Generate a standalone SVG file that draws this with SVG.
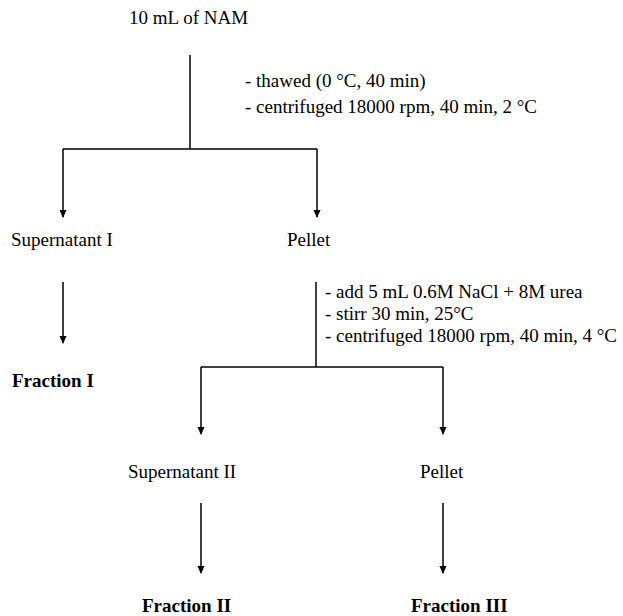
<svg xmlns="http://www.w3.org/2000/svg" width="623" height="616" viewBox="0 0 623 616">
<style>
text{font-family:"Liberation Serif","Times New Roman",serif;font-size:19px;fill:#000}
.b{font-weight:bold}
.c line,.c polyline{stroke:#000;stroke-width:1.5;fill:none}
</style>
<defs>
<marker id="ah" markerWidth="8" markerHeight="8" refX="7" refY="4" orient="auto" markerUnits="userSpaceOnUse">
<path d="M0,0.5 L8,4 L0,7.5 Z" fill="#000"/>
</marker>
</defs>
<rect width="623" height="616" fill="#fff"/>
<g class="c" id="connectors">
<line x1="190" y1="55" x2="190" y2="149"/>
<line x1="63" y1="149" x2="317" y2="149"/>
<line x1="63" y1="149" x2="63" y2="217" marker-end="url(#ah)"/>
<line x1="317" y1="149" x2="317" y2="217" marker-end="url(#ah)"/>
<line x1="63" y1="282" x2="63" y2="343" marker-end="url(#ah)"/>
<line x1="316" y1="282" x2="316" y2="367"/>
<line x1="201" y1="367" x2="443" y2="367"/>
<line x1="201" y1="367" x2="201" y2="434" marker-end="url(#ah)"/>
<line x1="443" y1="367" x2="443" y2="434" marker-end="url(#ah)"/>
<line x1="201" y1="503" x2="201" y2="573" marker-end="url(#ah)"/>
<line x1="443" y1="503" x2="443" y2="573" marker-end="url(#ah)"/>
</g>
<g id="nam"><text x="129" y="24">10 mL of NAM</text></g>
<g id="step1"><text x="245" y="87">- thawed (0 °C, 40 min)</text><text x="245" y="113">- centrifuged 18000 rpm, 40 min, 2 °C</text></g>
<g id="sup1"><text x="11" y="246">Supernatant I</text></g>
<g id="pellet1"><text x="287" y="246">Pellet</text></g>
<g id="frac1"><text class="b" x="12" y="387">Fraction I</text></g>
<g id="step2"><text x="325" y="298">- add 5 mL 0.6M NaCl + 8M urea</text><text x="325" y="320">- stirr 30 min, 25°C</text><text x="325" y="342">- centrifuged 18000 rpm, 40 min, 4 °C</text></g>
<g id="sup2"><text x="128" y="478">Supernatant II</text></g>
<g id="pellet2"><text x="420" y="478">Pellet</text></g>
<g id="frac2"><text class="b" x="142" y="612">Fraction II</text></g>
<g id="frac3"><text class="b" x="411" y="612">Fraction III</text></g>
</svg>
